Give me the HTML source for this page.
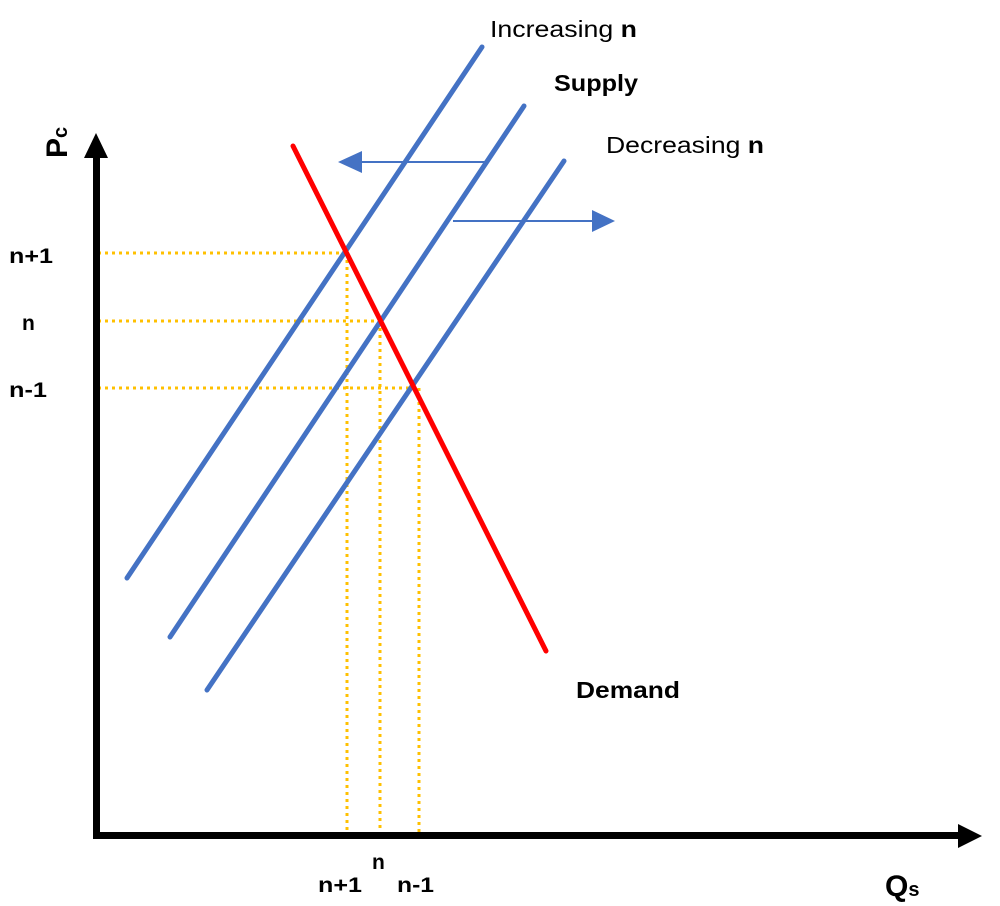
<!DOCTYPE html>
<html><head><style>html,body{margin:0;padding:0;background:#fff;width:1000px;height:906px;overflow:hidden}</style></head>
<body>
<svg width="1000" height="906" viewBox="0 0 1000 906" xmlns="http://www.w3.org/2000/svg" font-family="Liberation Sans, sans-serif">
<g stroke="#FFC000" stroke-width="3" stroke-dasharray="3,4" fill="none">
<line x1="98" y1="253" x2="345" y2="253"/>
<line x1="98" y1="321" x2="380" y2="321"/>
<line x1="98" y1="388" x2="416" y2="388"/>
<line x1="347" y1="253" x2="347" y2="834"/>
<line x1="380" y1="321" x2="380" y2="834"/>
<line x1="419" y1="388" x2="419" y2="834"/>
</g>
<g stroke="#4472C4" stroke-width="5" stroke-linecap="round">
<line x1="127" y1="578" x2="482" y2="47"/>
<line x1="170" y1="637" x2="524" y2="106"/>
<line x1="207" y1="690" x2="564" y2="161"/>
</g>
<line x1="293" y1="146" x2="546" y2="651" stroke="#FF0000" stroke-width="5" stroke-linecap="round"/>
<g stroke="#4472C4" stroke-width="2">
<line x1="485" y1="162" x2="355" y2="162"/>
<line x1="453" y1="221" x2="598" y2="221"/>
</g>
<polygon points="338,162 362,151 362,173" fill="#4472C4"/>
<polygon points="615,221 592,210 592,232" fill="#4472C4"/>
<rect x="93" y="155" width="7" height="684" fill="#000"/>
<polygon points="96,133 84,158 108,158" fill="#000"/>
<rect x="93" y="832" width="868" height="7" fill="#000"/>
<polygon points="982,836 958,824 958,848" fill="#000"/>
<text x="490" y="37" font-size="23" textLength="147" lengthAdjust="spacingAndGlyphs">Increasing <tspan font-weight="bold">n</tspan></text>
<text x="554" y="91" font-size="23" font-weight="bold" textLength="84" lengthAdjust="spacingAndGlyphs">Supply</text>
<text x="606" y="153" font-size="23" textLength="158" lengthAdjust="spacingAndGlyphs">Decreasing <tspan font-weight="bold">n</tspan></text>
<text x="576" y="698" font-size="23" font-weight="bold" textLength="104" lengthAdjust="spacingAndGlyphs">Demand</text>
<g font-size="21" font-weight="bold">
<text x="9" y="263" textLength="44" lengthAdjust="spacingAndGlyphs">n+1</text>
<text x="22" y="330">n</text>
<text x="9" y="397" textLength="38" lengthAdjust="spacingAndGlyphs">n-1</text>
<text x="318" y="892" textLength="44" lengthAdjust="spacingAndGlyphs">n+1</text>
<text x="372" y="869">n</text>
<text x="397" y="892" textLength="37" lengthAdjust="spacingAndGlyphs">n-1</text>
</g>
<text x="885" y="896" font-size="30" font-weight="bold">Q<tspan font-size="20">s</tspan></text>
<text transform="translate(67,158) rotate(-90)" font-size="30" font-weight="bold">P<tspan font-size="20">c</tspan></text>
</svg>
</body></html>
